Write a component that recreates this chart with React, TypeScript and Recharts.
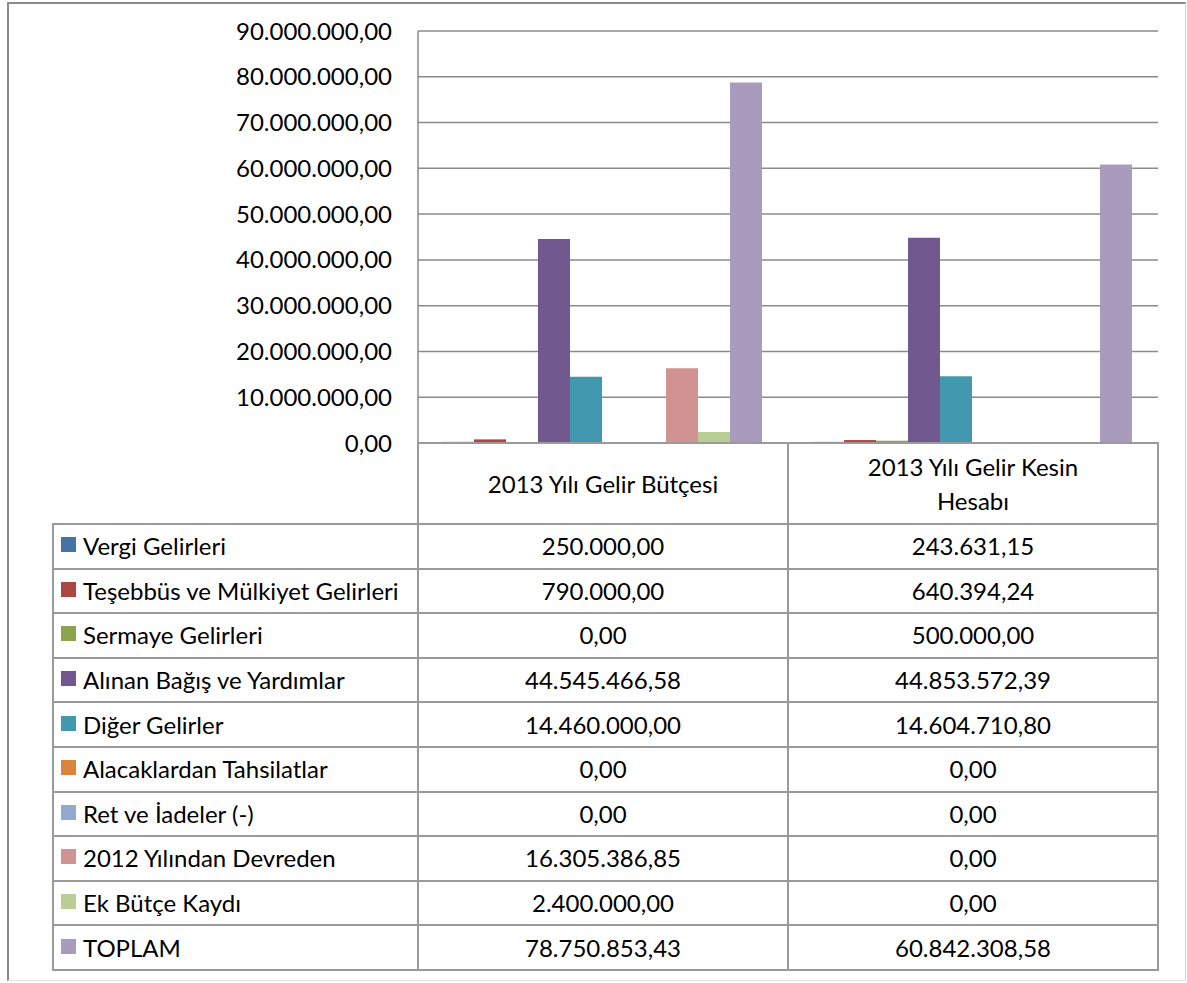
import { BarChart, Bar, XAxis, YAxis, CartesianGrid } from "recharts";

const categories = ["2013 Yılı Gelir Bütçesi", "2013 Yılı Gelir Kesin Hesabı"];

const seriesNames = [
  "Vergi Gelirleri",
  "Teşebbüs ve Mülkiyet Gelirleri",
  "Sermaye Gelirleri",
  "Alınan Bağış ve Yardımlar",
  "Diğer Gelirler",
  "Alacaklardan Tahsilatlar",
  "Ret ve İadeler (-)",
  "2012 Yılından Devreden",
  "Ek Bütçe Kaydı",
  "TOPLAM",
];

const seriesColors = [
  "#4572A7",
  "#AA4643",
  "#89A54E",
  "#71588F",
  "#4198AF",
  "#DB843D",
  "#93A9CF",
  "#D19392",
  "#B9CD96",
  "#A99BBD",
];

const budgetValues = [250000, 790000, 0, 44545466.58, 14460000, 0, 0, 16305386.85, 2400000, 78750853.43];
const finalValues = [243631.15, 640394.24, 500000, 44853572.39, 14604710.8, 0, 0, 0, 0, 60842308.58];

const yTicks = [0, 10000000, 20000000, 30000000, 40000000, 50000000, 60000000, 70000000, 80000000, 90000000];

const columns = [budgetValues, finalValues];

const data = categories.map((name, ci) => {
  const row: Record<string, string | number> = { name };
  seriesNames.forEach((_, si) => {
    row["s" + si] = columns[ci][si];
  });
  return row;
});

// Turkish number format: 1.234.567,89
function formatTR(v: number) {
  const [int, dec] = v.toFixed(2).split(".");
  return int.replace(/\B(?=(\d{3})+(?!\d))/g, ".") + "," + dec;
}

const FONT = "Lato, 'Open Sans', sans-serif";
const FS = 24;
const LINE = "#9a9a9a";
const colX = [53, 418, 788, 1158];
const headerTop = 443;
const headerBottom = 524;
const rowH = 44.6;

function Cell({ x0, x1, y0, y1, children, align = "center" }: any) {
  return (
    <div
      style={{
        position: "absolute",
        left: x0 - 1,
        top: y0 - 1,
        width: x1 - x0 + 2,
        height: y1 - y0 + 2,
        border: `2px solid ${LINE}`,
        boxSizing: "border-box",
        display: "flex",
        alignItems: "center",
        justifyContent: align === "left" ? "flex-start" : "center",
        textAlign: "center",
        fontFamily: FONT,
        fontSize: FS,
        color: "#000",
        whiteSpace: align === "left" ? "nowrap" : "normal",
        lineHeight: "34px",
      }}
    >
      {children}
    </div>
  );
}

export default function App() {
  return (
    <div style={{ position: "absolute", left: 0, top: 0, width: 1187, height: 983, background: "#fff" }}>
      <div
        style={{
          position: "absolute",
          left: 7,
          top: 2,
          width: 1179,
          height: 979,
          boxSizing: "border-box",
          borderLeft: "2px solid #8a8a8a",
          borderTop: "2px solid #8a8a8a",
          borderRight: "1px solid #d4d4d4",
          borderBottom: "1px solid #e2e2e2",
        }}
      />
      <div style={{ position: "absolute", left: 0, top: 0 }}>
        <BarChart
          width={1160}
          height={470}
          data={data}
          margin={{ top: 31, right: 2, bottom: 27, left: 0 }}
          barCategoryGap={24}
          barGap={0}
        >
          <CartesianGrid vertical={false} stroke="#8a8a8a" strokeWidth={1.5} />
          <XAxis dataKey="name" hide />
          <YAxis
            width={418}
            domain={[0, 90000000]}
            ticks={yTicks}
            tickFormatter={formatTR}
            tickLine={false}
            tickSize={0}
            tickMargin={26}
            axisLine={{ stroke: "#8a8a8a", strokeWidth: 1.5 }}
            tick={{ fontSize: FS, fill: "#000", fontFamily: FONT }}
            interval={0}
          />
          {seriesNames.map((name, i) => (
            <Bar key={name} dataKey={"s" + i} name={name} fill={seriesColors[i]} isAnimationActive={false} />
          ))}
        </BarChart>
      </div>

      {categories.map((c, ci) => (
        <Cell key={c} x0={colX[ci + 1]} x1={colX[ci + 2]} y0={headerTop} y1={headerBottom}>
          <div style={{ maxWidth: 270 }}>{c}</div>
        </Cell>
      ))}

      {seriesNames.map((name, si) => {
        const y0 = headerBottom + si * rowH;
        const y1 = y0 + rowH;
        return (
          <div key={name}>
            <Cell x0={colX[0]} x1={colX[1]} y0={y0} y1={y1} align="left">
              <span
                style={{
                  display: "inline-block",
                  width: 15,
                  height: 15,
                  background: seriesColors[si],
                  marginLeft: 7,
                  marginRight: 7,
                  marginTop: -3,
                  flexShrink: 0,
                }}
              />
              <span>{name}</span>
            </Cell>
            {columns.map((col, ci) => (
              <Cell key={ci} x0={colX[ci + 1]} x1={colX[ci + 2]} y0={y0} y1={y1}>
                {formatTR(col[si])}
              </Cell>
            ))}
          </div>
        );
      })}
    </div>
  );
}
